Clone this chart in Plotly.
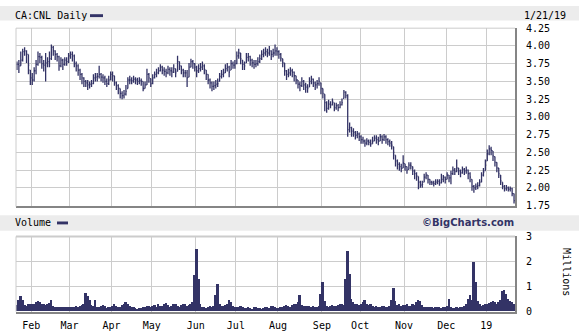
import pandas as pd
import plotly.graph_objects as go

# ---- data (trading days 2018-01-22 .. 2019-01-21) ----
dates = pd.bdate_range("2018-01-22", "2019-01-21")

# prices in cents
close_c = [
    374, 372, 380, 392, 393, 388, 373, 355,
    352, 365, 374, 385, 384, 375, 373, 376, 378, 382, 398, 393, 388, 385, 372, 380, 374, 380, 378, 386,
    388, 386, 375, 372, 366, 360, 355, 350, 348, 345, 346, 347, 355, 356, 357, 360, 356, 355, 350, 347, 352, 360,
    358, 348, 344, 340, 333, 330, 332, 336, 352, 352, 351, 353, 352, 350, 351, 350, 340, 345, 360, 355, 347,
    355, 360, 362, 365, 370, 366, 364, 362, 367, 365, 363, 368, 362, 378, 372, 366, 362, 362, 355, 370, 378, 375, 370,
    365, 368, 370, 372, 367, 360, 352, 348, 343, 344, 346, 347, 357, 360, 362, 368, 370, 363, 375, 373, 375,
    386, 390, 382, 374, 372, 384, 385, 380, 376, 374, 375, 378, 382, 388, 390, 392, 390, 393, 388, 390, 393, 392,
    388, 383, 376, 365, 360, 362, 365, 363, 358, 352, 346, 344, 350, 345, 342, 340, 350, 353, 348, 345, 347, 350, 340,
    333, 320, 312, 318, 317, 322, 313, 316, 313, 317, 320, 335, 330, 282, 285, 280, 278, 274, 276, 272,
    268, 266, 263, 266, 264, 262, 266, 270, 268, 266, 272, 268, 272, 268, 265, 263, 260, 250, 238, 233, 230, 227, 235,
    230, 225, 232, 231, 224, 220, 217, 208, 204, 205, 215, 218, 212, 208, 207, 206, 208, 209, 207, 212, 215, 212,
    218, 214, 220, 225, 223, 228, 224, 221, 226, 224, 225, 220, 215, 202, 200, 202, 203, 208, 218, 222, 232,
    248, 255, 253, 245, 236, 228, 220, 210, 202, 199, 200, 198, 199, 192, 182,
]
high_c = [
    378, 380, 392, 396, 398, 394, 388, 366,
    362, 370, 380, 392, 390, 386, 380, 390, 384, 392, 402, 400, 394, 390, 386, 384, 382, 384, 384, 390,
    392, 392, 388, 378, 374, 368, 362, 356, 352, 352, 350, 352, 360, 362, 362, 372, 362, 360, 358, 354, 358, 364,
    364, 358, 350, 346, 340, 336, 338, 345, 356, 358, 356, 358, 356, 355, 356, 354, 350, 350, 368, 362, 354,
    360, 364, 368, 370, 374, 372, 370, 368, 372, 370, 370, 374, 368, 386, 378, 372, 368, 366, 366, 376, 382, 380, 376,
    372, 374, 376, 378, 374, 366, 360, 354, 350, 350, 352, 354, 362, 366, 368, 374, 376, 372, 380, 378, 380,
    392, 396, 390, 380, 378, 390, 390, 386, 382, 380, 380, 384, 388, 394, 396, 398, 396, 400, 394, 396, 402, 398,
    394, 390, 382, 376, 366, 368, 370, 368, 364, 358, 352, 350, 356, 352, 348, 346, 356, 358, 354, 350, 352, 356, 348,
    340, 332, 322, 324, 322, 326, 320, 320, 318, 322, 326, 338, 336, 332, 292, 286, 284, 280, 280, 278,
    274, 272, 268, 270, 268, 268, 272, 274, 274, 272, 276, 274, 276, 274, 270, 268, 266, 258, 246, 240, 236, 234, 246,
    234, 230, 236, 236, 230, 226, 222, 216, 210, 210, 220, 222, 218, 212, 210, 210, 212, 212, 212, 220, 218, 216,
    222, 218, 224, 230, 228, 240, 228, 226, 230, 228, 230, 226, 222, 212, 204, 206, 208, 212, 222, 228, 240,
    254, 260, 258, 252, 244, 236, 228, 218, 208, 204, 204, 202, 202, 200, 192,
]
low_c = [
    366, 362, 372, 378, 386, 376, 360, 345,
    345, 350, 360, 372, 376, 368, 364, 350, 370, 370, 380, 386, 380, 378, 365, 370, 366, 372, 372, 376,
    382, 378, 370, 364, 358, 352, 346, 342, 342, 338, 340, 342, 346, 350, 350, 354, 350, 348, 345, 342, 345, 352,
    350, 344, 338, 332, 326, 325, 326, 330, 340, 346, 346, 348, 346, 345, 346, 344, 336, 340, 345, 348, 342,
    346, 354, 356, 360, 364, 360, 358, 356, 360, 358, 356, 362, 356, 364, 366, 360, 356, 356, 342, 356, 370, 368, 364,
    356, 362, 364, 366, 360, 352, 346, 340, 336, 338, 340, 342, 350, 354, 356, 362, 364, 356, 366, 368, 368,
    374, 382, 374, 366, 366, 376, 378, 372, 370, 368, 370, 372, 376, 380, 384, 386, 384, 386, 380, 384, 386, 386,
    382, 378, 370, 358, 352, 356, 358, 356, 350, 346, 340, 336, 342, 338, 334, 334, 342, 346, 342, 338, 340, 344, 332,
    326, 308, 306, 310, 312, 316, 308, 310, 308, 312, 316, 326, 326, 272, 278, 272, 272, 268, 270, 266,
    262, 262, 258, 260, 260, 258, 262, 266, 262, 260, 266, 262, 266, 262, 260, 258, 254, 240, 230, 226, 224, 222, 228,
    224, 220, 226, 226, 218, 212, 210, 198, 200, 200, 208, 212, 206, 204, 204, 202, 204, 205, 203, 206, 208, 206,
    212, 208, 205, 218, 218, 222, 218, 215, 220, 218, 220, 212, 208, 196, 193, 197, 198, 202, 208, 216, 224,
    238, 246, 246, 238, 230, 222, 214, 204, 198, 195, 196, 195, 195, 188, 178,
]
# volume in hundredths of millions
volume_h = [
    25, 45, 60, 45, 25, 22, 28, 30,
    30, 28, 35, 40, 38, 28, 30, 25, 28, 32, 45, 22, 18, 16, 15, 18, 16, 17, 15, 18,
    16, 18, 17, 20, 18, 22, 25, 30, 74, 60, 45, 25, 20, 44, 18, 15, 22, 25, 20, 14, 16, 18,
    22, 28, 20, 15, 18, 25, 30, 35, 28, 22, 18, 15, 12, 10, 14, 12, 18, 15, 20, 22, 18,
    20, 25, 18, 30, 22, 20, 28, 32, 25, 18, 22, 28, 30, 22, 18, 25, 30, 28, 20, 24, 28, 35, 145,
    250, 130, 30, 18, 15, 12, 15, 20, 18, 22, 65, 107, 30, 20, 22, 25, 28, 45, 35, 20, 18,
    15, 18, 20, 15, 12, 14, 16, 12, 10, 15, 18, 14, 12, 10, 12, 15, 18, 14, 20, 22, 16, 14,
    12, 15, 18, 22, 25, 20, 18, 25, 30, 28, 35, 65, 25, 22, 20, 22, 20, 18, 20, 15, 18, 22, 70,
    115, 40, 20, 18, 22, 25, 20, 22, 25, 30, 28, 25, 130, 240, 150, 50, 35, 28, 30, 25,
    30, 35, 45, 28, 25, 30, 22, 18, 20, 15, 18, 22, 20, 18, 15, 20, 45, 92, 40, 25, 28, 22, 25,
    25, 28, 22, 20, 30, 25, 35, 45, 40, 25, 18, 15, 16, 18, 15, 14, 16, 18, 15, 14, 16, 18,
    20, 48, 15, 12, 14, 15, 12, 18, 15, 20, 30, 50, 65, 45, 198, 117, 40, 30, 22, 25, 28,
    30, 32, 35, 40, 35, 30, 38, 45, 80, 85, 70, 50, 42, 38, 30,
]
month_labels = ["Feb", "Mar", "Apr", "May", "Jun", "Jul", "Aug", "Sep", "Oct", "Nov", "Dec", "19"]
price_ticks = [1.75, 2.00, 2.25, 2.50, 2.75, 3.00, 3.25, 3.50, 3.75, 4.00, 4.25]
vol_ticks = [0, 1, 2, 3]

# ---- derived ----
n = len(dates)
x = list(range(n))
close = [v / 100 for v in close_c]
high = [v / 100 for v in high_c]
low = [v / 100 for v in low_c]
opn = [close[0]] + close[:-1]
opn = [min(max(o, l), h) for o, l, h in zip(opn, low, high)]
vol = [v / 100 for v in volume_h]
month_starts = [i for i in range(1, n) if dates[i].month != dates[i - 1].month]
tickvals = [i - 0.5 for i in month_starts]

W, H = 579, 335
NAVY = "#333366"
GRID = "#cccccc"
DARK = "#858585"
MONO = "DejaVu Sans Mono"


def px_x(p):
    return p / W


def px_y(p):
    return 1 - p / H


fig = go.Figure()
fig.add_trace(go.Ohlc(
    x=x, open=opn, high=high, low=low, close=close,
    increasing=dict(line=dict(color=NAVY, width=1.3)),
    decreasing=dict(line=dict(color=NAVY, width=1.3)),
    tickwidth=0.45, xaxis="x", yaxis="y", showlegend=False, hoverinfo="skip",
))
fig.add_trace(go.Bar(
    x=x, y=vol, marker=dict(color=NAVY, line=dict(width=0)), width=1.0,
    xaxis="x2", yaxis="y2", showlegend=False, hoverinfo="skip",
))

xdom = [px_x(16), px_x(515)]
xr = [-0.5, n - 0.5]
fig.update_layout(
    width=W, height=H, margin=dict(l=0, r=0, t=0, b=0),
    paper_bgcolor="white", plot_bgcolor="white", bargap=0,
    font=dict(family=MONO, size=10, color="#000000"),
    xaxis=dict(domain=xdom, range=xr, anchor="y", tickvals=tickvals, showticklabels=False,
               showgrid=True, gridcolor=GRID, gridwidth=1, zeroline=False, ticks="",
               showline=True, linecolor=DARK, linewidth=2, rangeslider=dict(visible=False),
               fixedrange=True),
    yaxis=dict(domain=[px_y(207), px_y(23)], range=[1.75, 4.25], side="right", anchor="x",
               tickvals=price_ticks, tickformat=".2f", showgrid=True, gridcolor=GRID,
               zeroline=False, ticks="", showline=True, linecolor=DARK, linewidth=2,
               ticklabelstandoff=7, tickfont=dict(family=MONO, size=10, color="#000")),
    xaxis2=dict(domain=xdom, range=xr, anchor="y2", tickvals=tickvals, ticktext=month_labels,
                showgrid=True, gridcolor=GRID, zeroline=False, ticks="",
                showline=True, linecolor=DARK, linewidth=2, ticklabelstandoff=3,
                tickfont=dict(family=MONO, size=10, color="#000")),
    yaxis2=dict(domain=[px_y(317), px_y(239)], range=[0, 3], side="right", anchor="x2",
                tickvals=vol_ticks, showgrid=True, gridcolor=GRID, zeroline=False, ticks="",
                showline=True, linecolor=DARK, linewidth=2, ticklabelstandoff=7,
                tickfont=dict(family=MONO, size=10, color="#000")),
)

shapes = [
    # header bands
    dict(type="rect", xref="paper", yref="paper", x0=0, x1=1, y0=px_y(15), y1=1,
         fillcolor="#ececec", line=dict(width=0), layer="below"),
    dict(type="rect", xref="paper", yref="paper", x0=0, x1=1, y0=px_y(233), y1=px_y(217),
         fillcolor="#ececec", line=dict(width=0), layer="below"),
    # price frame (top, left)
    dict(type="line", xref="paper", yref="paper", x0=px_x(16), x1=px_x(515), y0=px_y(23), y1=px_y(23),
         line=dict(color=GRID, width=1)),
    dict(type="line", xref="paper", yref="paper", x0=px_x(16), x1=px_x(16), y0=px_y(208), y1=px_y(23),
         line=dict(color=GRID, width=1)),
    # volume frame (top, left)
    dict(type="line", xref="paper", yref="paper", x0=px_x(16), x1=px_x(515), y0=px_y(239), y1=px_y(239),
         line=dict(color=GRID, width=2)),
    dict(type="line", xref="paper", yref="paper", x0=px_x(16), x1=px_x(16), y0=px_y(317), y1=px_y(239),
         line=dict(color=GRID, width=1)),
    # legend dashes
    dict(type="rect", xref="paper", yref="paper", x0=px_x(90), x1=px_x(103), y0=px_y(11.5), y1=px_y(8.5),
         fillcolor=NAVY, line=dict(width=0)),
    dict(type="rect", xref="paper", yref="paper", x0=px_x(57), x1=px_x(68), y0=px_y(226.5), y1=px_y(223.5),
         fillcolor=NAVY, line=dict(width=0)),
]
fig.update_layout(shapes=shapes)

ann = [
    dict(text="CA:CNL Daily", x=px_x(13), y=px_y(9.5), xanchor="left", yanchor="middle"),
    dict(text="1/21/19", x=px_x(522), y=px_y(9.5), xanchor="left", yanchor="middle"),
    dict(text="Volume", x=px_x(13), y=px_y(225), xanchor="left", yanchor="middle"),
    dict(text="<b>©BigCharts.com</b>", x=px_x(516), y=px_y(225), xanchor="right", yanchor="middle",
         font=dict(family="DejaVu Sans", size=10, color=NAVY)),
    dict(text="Millions", x=px_x(567), y=px_y(276), xanchor="center", yanchor="middle", textangle=90),
]
for a in ann:
    a.setdefault("font", dict(family=MONO, size=10, color="#000"))
    fig.add_annotation(xref="paper", yref="paper", showarrow=False, **a)

fig.write_html("out.html")
